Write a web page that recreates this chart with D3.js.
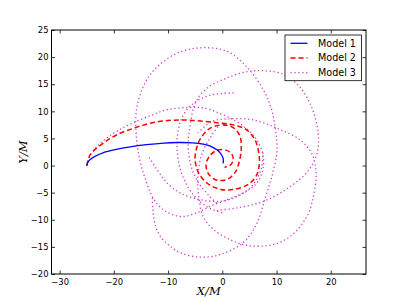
<!DOCTYPE html>
<html><head><meta charset="utf-8">
<script src="https://cdn.jsdelivr.net/npm/d3@7"></script>
<style>body{margin:0;background:#fff}svg{display:block}</style>
</head><body>
<svg id="c" width="407" height="305"></svg>
<script>
const xTicks=[-30,-20,-10,0,10,20];
const yTicks=[-20,-15,-10,-5,0,5,10,15,20,25];
const seriesNames=["Model 1","Model 2","Model 3"];
const model1X=[-25,-24.6,-23.5,-21.9,-20,-17,-14,-10.8,-8.3,-5.5,-3.5,-2.2,-1,-0.3,0.1,0.2,0.15];
const model1Y=[0,0.9,1.7,2.4,2.9,3.45,3.85,4.15,4.25,4.2,3.95,3.6,2.9,2.2,1.5,0.9,0.4];
const model2X=[-25,-24.3,-22,-19.4,-16.3,-13.3,-10,-7,-4,-1,2,4.3,5.9,6.7,6.8,6.2,4.7,2.2,-0.3,-2.6,-4.3,-5,-4.8,-4,-2.2,0.2,2,3.2,3.5,3.2,2.4,1,-1,-2.5,-3,-2.3,-1,0.5,1.7,2,1.4,0.4];
const model2Y=[0,2.1,4.1,5.7,6.9,7.8,8.3,8.4,8.2,7.9,7.5,6.7,5,2.5,0,-2,-3.5,-4.4,-4.4,-3.4,-1.5,0.8,3,5,6.9,7.5,7,5.6,3.5,1,-1.2,-2.5,-2.7,-1.6,0.2,1.8,2.8,2.9,2.2,1,0,-0.3];
const model3X=[
-25,-24.5,-23.2,-21.3,-19,-16.4,-13,-10.2,-6.5,-3.4,-0.4,2.1,4.5,6.3,7.4,7.6,6.8,5.2,3.3,0.9,-2.2,-4.7,-7.2,-9,-10.8,-12.6,-14.2,-15.3,-15.9,-15.8,-14.6,-12.6,-8.6,-4.3,0.8,4.5,7.6,9.1,9.8,10.1,9.3,8,6.4,3.9,-0.4,-4,-7.7,-9.6,-11.4,-12.3,-12.8,-12.9,null,
-1,2.7,7.6,12.5,15.8,17.5,17.6,16.4,14.2,11.3,7.5,4,0.5,-2.8,-5,-5.9,-6.3,-5.8,-4.5,-2.5,-1,null,
-4.5,-2,0.9,5.8,10.7,14.4,16.6,17.3,16.8,15.6,12.5,8.8,4.5,1.5,-1.6,-3.5,-4.3,-4.5,-3.8,-2,-0.5,null,
2.1,0,-2.5,-4.5,-6.3,-7.6,-8.3,-8.3,-7.8,-6.7,-5,-2.5,0,null,
-13.5,-12,-10.2,-7.7,-4,-0.4,3,5.7,7.2,7.5];
const model3Y=[
0,1.6,3.4,5.1,6.6,7.9,9.3,10.3,10.7,10.6,9.6,8.4,6.8,4.8,2.4,0,-2.6,-4.3,-5.3,-6.3,-7.5,-8.7,-9.4,-9.1,-8.2,-6.3,-2.5,1.5,6,10.5,14.5,17.6,20.6,21.7,21.1,18.2,13.9,10.3,6.6,2.9,-1.4,-5.7,-10.6,-14.2,-16.4,-16.9,-16.1,-14.9,-13.1,-11.2,-8.2,-5.7,null,
-8.3,-7.8,-6.6,-3.9,-1,2.3,6.6,10.9,14.6,16.8,17.5,17.2,16,14.3,11.5,7.5,4,0,-3,-5.5,-7,null,
6,8.1,8.6,8.4,6.6,4.7,2,-1.4,-5.7,-9.4,-13.1,-14.7,-14.7,-13.7,-11.8,-9.5,-6,-2,2,5.5,7.5,null,
13.4,13.3,12.9,12,10.6,8.4,5.5,2.5,-0.5,-3.3,-5.8,-7.8,-8.7,null,
1.5,-0.8,-3.2,-5.1,-6.3,-6.6,-5.6,-3.5,-0.5,2.5];

const svg=d3.select("#c");
const L=51.5,R=366,T=30,B=274;
const x=d3.scaleLinear().domain([-31.5,26.5]).range([L,R]);
const y=d3.scaleLinear().domain([-20,25]).range([B,T]);
const font="DejaVu Sans, sans-serif";

svg.append("clipPath").attr("id","pc").append("rect").attr("x",L).attr("y",T).attr("width",R-L).attr("height",B-T);
const g=svg.append("g").attr("clip-path","url(#pc)");

function pts(xs,ys){return xs.map((v,i)=>(v===null||ys[i]===null)?null:[v,ys[i]]);}
const line=d3.line().defined(d=>d!==null).x(d=>x(d[0])).y(d=>y(d[1])).curve(d3.curveCatmullRom.alpha(0.5));

const styles=[
 {c:"#0000ff",dash:null,w:1.3,o:1},
 {c:"#ff0000",dash:"5,3",w:1.5,o:1},
 {c:"#c000c0",dash:"1.3,2.6",w:1.3,o:0.75}
];
const data=[pts(model1X,model1Y),pts(model2X,model2Y),pts(model3X,model3Y)];
[2,1,0].forEach(i=>{
  g.append("path").datum(data[i]).attr("d",line).attr("fill","none")
   .attr("stroke",styles[i].c).attr("stroke-width",styles[i].w)
   .attr("stroke-dasharray",styles[i].dash).attr("opacity",styles[i].o);
});

const tk=3.5;
function styleAx(sel){sel.select(".domain").remove();sel.selectAll("line").attr("stroke","#000").attr("stroke-width",0.8);
 sel.selectAll("text").attr("font-family",font).attr("font-size","8.4px").attr("fill","#000");}
const fmt=d=>d<0?"\u2212"+Math.abs(d):String(d);
svg.append("g").attr("transform",`translate(0,${B})`).call(d3.axisBottom(x).tickValues(xTicks).tickSize(-tk).tickPadding(5).tickFormat(fmt)).call(styleAx);
svg.append("g").attr("transform",`translate(0,${T})`).call(d3.axisTop(x).tickValues(xTicks).tickSize(-tk).tickFormat("")).call(styleAx);
svg.append("g").attr("transform",`translate(${L},0)`).call(d3.axisLeft(y).tickValues(yTicks).tickSize(-tk).tickPadding(3).tickFormat(fmt)).call(styleAx);
svg.append("g").attr("transform",`translate(${R},0)`).call(d3.axisRight(y).tickValues(yTicks).tickSize(-tk).tickFormat("")).call(styleAx);
svg.append("rect").attr("x",L).attr("y",T).attr("width",R-L).attr("height",B-T).attr("fill","none").attr("stroke","#000").attr("stroke-width",1);

svg.append("text").attr("x",(L+R)/2).attr("y",295).attr("text-anchor","middle")
 .attr("font-family","DejaVu Serif, serif").attr("font-style","italic").attr("font-size","11.5px").text("X/M");
svg.append("text").attr("transform",`translate(26.5,${(T+B)/2}) rotate(-90)`).attr("text-anchor","middle")
 .attr("font-family","DejaVu Serif, serif").attr("font-style","italic").attr("font-size","11.5px").text("Y/M");

const lg=svg.append("g");
lg.append("rect").attr("x",285).attr("y",35).attr("width",76.5).attr("height",45.7).attr("fill","#fff").attr("stroke","#000").attr("stroke-width",0.8);
const ly=[43.3,58,72.7];
seriesNames.forEach((n,i)=>{
  lg.append("line").attr("x1",290.5).attr("x2",307.5).attr("y1",ly[i]).attr("y2",ly[i])
   .attr("stroke",styles[i].c).attr("stroke-width",styles[i].w).attr("stroke-dasharray",styles[i].dash).attr("opacity",styles[i].o);
  lg.append("text").attr("x",318).attr("y",ly[i]).attr("dy","0.35em").attr("font-family",font).attr("font-size","9.6px").text(n);
});
</script>
</body></html>
